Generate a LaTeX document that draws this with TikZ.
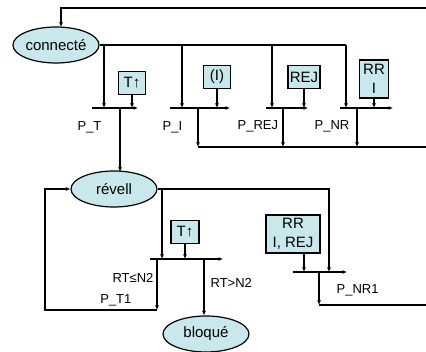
\documentclass[tikz,border=0pt]{standalone}
\usepackage{fontspec}
\setmainfont{Liberation Sans}
\usetikzlibrary{arrows.meta,shapes.geometric}
\definecolor{cyanpale}{RGB}{200,232,236}

\begin{document}
\begin{tikzpicture}[x=1pt,y=-1pt,line width=1.2pt,
		etat/.style={ellipse,draw,fill=cyanpale,minimum width=86pt,minimum height=36pt,inner sep=0pt,font=\fontsize{15}{18}\selectfont},
		garde/.style={rectangle,draw,fill=cyanpale,inner sep=0pt,align=center,font=\fontsize{15}{19}\selectfont},
		fleche/.style={-{Latex[length=4.5pt,width=4pt]}},
		lbl/.style={inner sep=0pt,font=\fontsize{13}{15}\selectfont}]
			\useasboundingbox (0,0) rectangle (426,352);
			% etats
			\node[etat] (connecte) at (56,45) {connecté};
			\node[etat] (revell) at (114,189) {révell};
			\node[etat] (bloque) at (206,334) {bloqué};
			% gardes
			\node[garde,minimum width=27pt,minimum height=23pt] (tA) at (132,83) {T↑};
			\node[garde,minimum width=27pt,minimum height=23pt] (gI) at (217,77) {(I)};
			\node[garde,minimum width=32pt,minimum height=23pt] (gREJ) at (304,77) {REJ};
			\node[garde,minimum width=29pt,minimum height=38pt] (gNR) at (374,79) {RR\\I};
			\node[garde,minimum width=28pt,minimum height=23pt] (tB) at (185,232) {T↑};
			\node[garde,minimum width=54pt,minimum height=38pt] (gNR1) at (293,234) {RR\\I, REJ};
			% transitions
			\foreach \n/\xa/\xb/\yy in {pT/92/138/108,pI/170/230/108,pREJ/266/308/108,pNR/340/393/108,pT1/150/223/259,pNR1/293/347/272}{
				\coordinate (\n) at (\xa,\yy);
				\draw[fleche] (\n) -- (\xb,\yy);
			}
			% connecte
			\draw[fleche] (426,8) -| (61,27);
			\draw (connecte.east) -- (346,45);
			\foreach \x/\b in {104/pT,182/pI,272/pREJ,346/pNR}
				\draw[fleche] (\x,45) -- (\x,45 |- \b);
			\foreach \g/\b in {tA/pT,gI/pI,gREJ/pREJ,gNR/pNR,tB/pT1}
				\draw[fleche] (\g.south) -- (\g.south |- \b);
			\draw[fleche] (120,108) -- (120,172);
			\foreach \x in {198,283,357}
				\draw[fleche] (\x,108) -- (\x,147);
			\draw (198,147) -- (426,147);
			% revell
			\draw[fleche] (revell.east) -| (329,272);
			\draw[fleche] (162,189) -- (162,259);
			\draw[fleche] (157,259) -- (157,310);
			\draw[fleche] (157,310) -- (45,310) -- (45,189) -- (revell.west);
			\draw[fleche] (204,259) -- (bloque.north -| 204,0);
			\draw[fleche] (gNR1.south -| 304,0) -- (304,272);
			\draw[fleche] (319,272) -- (319,305);
			\draw (319,305) -- (426,305);
			% noms
			\node[lbl,anchor=west] (lT) at (77,127) {P\_T};
			\node[lbl,anchor=west] (lI) at (162,127) {P\_I};
			\node[lbl,anchor=west] (lREJ) at (237,126) {P\_REJ};
			\node[lbl,anchor=west] (lNR) at (314,126) {P\_NR};
			\node[lbl,anchor=east] (lRT1) at (154,278) {RT≤N2};
			\node[lbl,anchor=east] (lT1) at (132,300) {P\_T1};
			\node[lbl,anchor=west] (lRT2) at (210,283) {RT>N2};
			\node[lbl,anchor=west] (lNR1) at (336,290) {P\_NR1};
		\end{tikzpicture}
\end{document}
